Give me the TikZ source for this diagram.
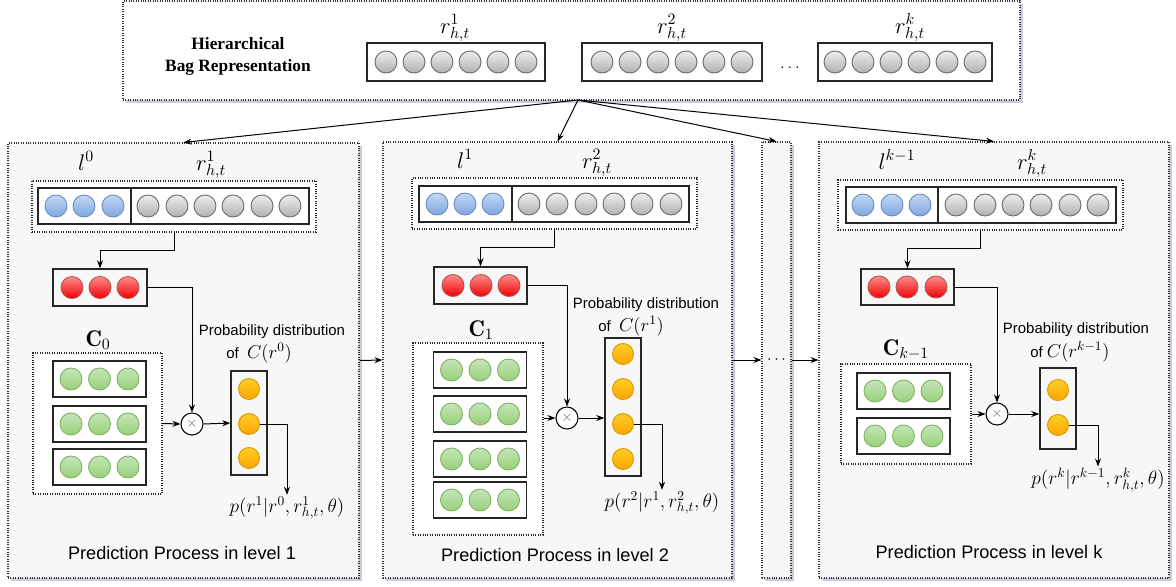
\RequirePackage{fix-cm}
\documentclass[tikz,border=0pt]{standalone}
\usepackage{fontspec}
\setsansfont{Liberation Sans}
\newfontfamily\timesfont{Liberation Serif}
\usetikzlibrary{fit,shadows,arrows.meta}
\definecolor{shadowc}{HTML}{8C8CB4}
\definecolor{gT}{HTML}{EEEEEE}
\definecolor{gB}{HTML}{B0B0B0}
\definecolor{gD}{HTML}{6E6E6E}
\definecolor{bT}{HTML}{C4D7F5}
\definecolor{bB}{HTML}{7EA6E0}
\definecolor{bD}{HTML}{6C8EBF}
\definecolor{rT}{HTML}{FF8C8C}
\definecolor{rB}{HTML}{F00000}
\definecolor{rD}{HTML}{B85450}
\definecolor{grT}{HTML}{C6E5BA}
\definecolor{grB}{HTML}{97D077}
\definecolor{grD}{HTML}{82B366}
\definecolor{oT}{HTML}{FFCD28}
\definecolor{oB}{HTML}{FFA500}
\definecolor{oD}{HTML}{D79B00}
\begin{document}
\begin{tikzpicture}[x=0.75pt,y=-0.75pt,
  panel/.style={draw=black!80,densely dotted,line width=0.8pt,fill=black!3,inner sep=0pt,
    drop shadow={shadow xshift=2pt,shadow yshift=-2pt,fill=shadowc,opacity=0.45}},
  topbox/.style={panel,fill=white},
  sbox/.style={draw=black!85,line width=1.1pt,inner sep=0pt},
  dbox/.style={draw=black!85,densely dotted,line width=0.8pt,inner sep=0pt,fill=white},
  rowbox/.style={sbox,minimum width=69.75pt,minimum height=27pt},
  ball/.style={circle,minimum size=16.5pt,inner sep=0pt,line width=0.7pt},
  gball/.style={ball,draw=gD,top color=gT,bottom color=gB},
  bball/.style={ball,draw=bD,top color=bT,bottom color=bB},
  rball/.style={ball,draw=rD,top color=rT,bottom color=rB},
  grball/.style={ball,draw=grD,top color=grT,bottom color=grB},
  oball/.style={ball,minimum size=15.75pt,draw=oD,top color=oT,bottom color=oB},
  xnode/.style={circle,draw=black,fill=white,minimum size=16.5pt,inner sep=0pt,line width=0.8pt,text=black!60,font=\fontsize{11}{11}\selectfont},
  arr/.style={-{Stealth[length=6pt,width=4.5pt]},line width=0.75pt},
  lab/.style={font=\fontsize{17}{20}\selectfont,anchor=base,inner sep=0pt},
  clab/.style={font=\fontsize{17}{20}\selectfont},
  plab/.style={font=\fontsize{14.5}{17}\selectfont,inner sep=1pt},
  caplab/.style={font=\sffamily\fontsize{13.6}{16}\selectfont},
  pd/.style={font=\sffamily\fontsize{11.2}{13}\selectfont,inner sep=0pt},
  dv/.style={draw=black!85,line width=1.1pt}
]
\useasboundingbox (0,0) rectangle (1176,586);

% ---------- top box ----------
\node[topbox,fit={(123,1) (1020,100)}] (top) {};
\node[font=\timesfont\bfseries\fontsize{13}{16.5}\selectfont,align=center] (title) at (238,56) {Hierarchical\\Bag Representation};
\node[sbox,fit={(367,43) (545,81)}] (tv1) {};
\foreach \x in {386,414,...,526} \node[gball] at (\x,62) {};
\node[sbox,fit={(582,43) (762,81)}] (tv2) {};
\foreach \x in {602,630,...,742} \node[gball] at (\x,62) {};
\node[sbox,fit={(818,43) (992,81)}] (tvk) {};
\foreach \x in {835,863,...,975} \node[gball] at (\x,62) {};
\node[lab] (tl1) at (455,33) {$r^1_{h,t}$};
\node[lab] (tl2) at (672,33) {$r^2_{h,t}$};
\node[lab] (tlk) at (910,33) {$r^k_{h,t}$};
\node[font=\fontsize{13}{15}\selectfont,anchor=base] (tdots) at (790,68) {$\ldots$};

% ---------- panels ----------
\node[panel,fit={(8,143) (359,578)}] (P1) {};
\node[panel,fit={(383,142) (732,578)}] (P2) {};
\node[panel,fit={(762,142) (791,578)}] (Pn) {};
\node[panel,fit={(819,142) (1169,578)}] (Pk) {};

\coordinate (src) at (578,100);
\foreach \p in {P1,P2,Pn,Pk} \draw[arr] (src) -- (\p.north);
\draw[arr] (P1.east) -- (P2.west);
\draw[arr] (P2.east) -- (Pn.west);
\draw[arr] (Pn.east) -- (Pk.west);
\node[font=\fontsize{12}{14}\selectfont] (ndots) at (Pn.center) {$\cdots$};

% ---------- panel 1 ----------
\node[dbox,fit={(32,181) (316,232)}] (V1) {};
\node[sbox,fit={(38,188) (309,224)}] (I1) {};
\draw[dv] (131,188) -- (131,224);
\foreach \x in {56,84,113} \node[bball] at (\x,206) {};
\foreach \x in {148,177,205,233,262,290} \node[gball] at (\x,206) {};
\node[lab] (l1) at (86,170) {$l^0$};
\node[lab] (rl1) at (211,170) {$r^1_{h,t}$};
\node[sbox,fit={(53,269) (147,306)}] (R1) {};
\foreach \x in {72,100,128} \node[rball] at (\x,287.5) {};
\draw[arr] (V1.south) -- ++(0,18) -| (R1.north);
\node[xnode] (X1) at (192,424) {$\times$};
\draw[arr] (R1.east) -| (X1.north);
\node[clab] (c1l) at (98,340) {$\mathbf{C}_0$};
\node[dbox,fit={(33,353) (162,494)}] (C1) {};
\foreach \y in {379,424,467} {
  \node[rowbox] at (99.5,\y) {};
  \foreach \dx in {-28.5,0,28.5} \node[grball] at (99.5+\dx,\y) {};
}
\draw[arr] (C1.east) -- (X1.west);
\node[sbox,fit={(231,371) (267,475)}] (O1) {};
\foreach \y/\n in {389/a,424/b,458/c} \node[oball] (o1\n) at (249,\y) {};
\draw[arr] (X1.east) -- (O1.west);
\node[plab] (p1) at (287,508) {$p(r^1|r^0,r^1_{h,t},\theta)$};
\draw[arr] (o1b.east) -| (p1.north);
\node[pd] (pd1) at (272,332) {Probability distribution};
\node[pd,anchor=west] (of1) at (226,353) {of\ \ {\fontsize{14}{16}\selectfont$C(r^0)$}};
\node[caplab] (cap1) at (182,553) {Prediction Process in level 1};

% ---------- panel 2 ----------
\node[dbox,fit={(412,178) (697,229)}] (V2) {};
\node[sbox,fit={(419,186) (689,222)}] (I2) {};
\draw[dv] (512,186) -- (512,222);
\foreach \x in {437,465,493} \node[bball] at (\x,204) {};
\foreach \x in {529,557,586,614,642,671} \node[gball] at (\x,204) {};
\node[lab] (l2) at (465,168) {$l^1$};
\node[lab] (rl2) at (597,168) {$r^2_{h,t}$};
\node[sbox,fit={(434,267) (527,304)}] (R2) {};
\foreach \x in {453,481,509} \node[rball] at (\x,285.5) {};
\draw[arr] (V2.south) -- ++(0,18) -| (R2.north);
\node[xnode] (X2) at (567,418) {$\times$};
\draw[arr] (R2.east) -| (X2.north);
\node[clab] (c2l) at (481,330) {$\mathbf{C}_1$};
\node[dbox,fit={(413,343) (543,535)}] (C2) {};
\foreach \y in {370,414,459,500} {
  \node[rowbox] at (480,\y) {};
  \foreach \dx in {-28.5,0,28.5} \node[grball] at (480+\dx,\y) {};
}
\draw[arr] (C2.east |- X2) -- (X2.west);
\node[sbox,fit={(605,338) (641,476)}] (O2) {};
\foreach \y/\n in {354/a,389/b,424/c,459/d} \node[oball] (o2\n) at (623,\y) {};
\draw[arr] (X2.east) -- (X2.east -| O2.west);
\node[plab] (p2) at (662,503) {$p(r^2|r^1,r^2_{h,t},\theta)$};
\draw[arr] (o2c.east) -| (p2.north);
\node[pd] (pd2) at (646,305) {Probability distribution};
\node[pd,anchor=west] (of2) at (598,326) {of\ \ {\fontsize{14}{16}\selectfont$C(r^1)$}};
\node[caplab] (cap2) at (555,555) {Prediction Process in level 2};

% ---------- panel k ----------
\node[dbox,fit={(838,180) (1123,230)}] (Vk) {};
\node[sbox,fit={(846,187) (1116,223)}] (Ik) {};
\draw[dv] (938,187) -- (938,223);
\foreach \x in {863,892,920} \node[bball] at (\x,205) {};
\foreach \x in {956,985,1013,1041,1070,1098} \node[gball] at (\x,205) {};
\node[lab] (lk) at (897,169) {$l^{k-1}$};
\node[lab] (rlk) at (1032,169) {$r^k_{h,t}$};
\node[sbox,fit={(861,269) (954,305)}] (Rk) {};
\foreach \x in {879,907,936} \node[rball] at (\x,287) {};
\draw[arr] (Vk.south) -- ++(0,18) -| (Rk.north);
\node[xnode] (Xk) at (997,414) {$\times$};
\draw[arr] (Rk.east) -| (Xk.north);
\node[clab] (ckl) at (906,350) {$\mathbf{C}_{k-1}$};
\node[dbox,fit={(841,364) (971,464)}] (Ck) {};
\foreach \y in {391,436} {
  \node[rowbox] at (903.5,\y) {};
  \foreach \dx in {-28.5,0,28.5} \node[grball] at (903.5+\dx,\y) {};
}
\draw[arr] (Ck.east) -- (Xk.west);
\node[sbox,fit={(1040,368) (1076,449)}] (Ok) {};
\foreach \y/\n in {390/a,425/b} \node[oball] (ok\n) at (1058,\y) {};
\draw[arr] (Xk.east) -- (Xk.east -| Ok.west);
\node[plab] (pk) at (1098,480) {$p(r^k|r^{k-1},r^k_{h,t},\theta)$};
\draw[arr] (okb.east) -| (pk.north);
\node[pd] (pdk) at (1076,330) {Probability distribution};
\node[pd,anchor=west] (ofk) at (1030,352) {of\ {\fontsize{14}{16}\selectfont$C(r^{k-1})$}};
\node[caplab] (capk) at (989,552) {Prediction Process in level k};
\end{tikzpicture}
\end{document}
